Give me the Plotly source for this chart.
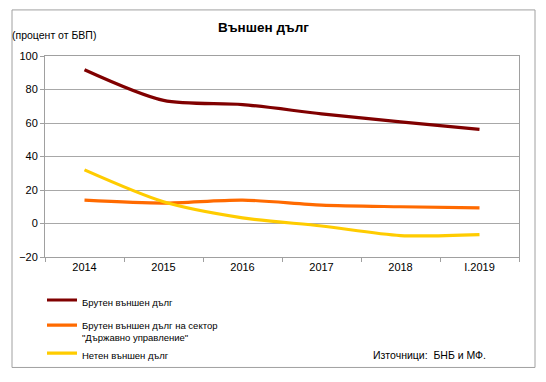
import plotly.graph_objects as go

categories = ["2014", "2015", "2016", "2017", "2018", "I.2019"]
gross_external_debt = [91.8, 73.5, 71.0, 65.5, 60.7, 56.2]
gov_sector_debt = [13.9, 12.2, 14.0, 11.0, 10.0, 9.3]
net_external_debt = [32.0, 13.0, 3.4, -1.5, -7.2, -6.6]

series_names = [
    "Брутен външен дълг",
    "Брутен външен дълг на сектор<br>\"Държавно управление\"",
    "Нетен външен дълг",
]
colors = ["#800000", "#ff6a00", "#ffcc00"]

# page has an 8px body margin; figure is sized so it fits the window
OFF = 8
W, H = 530, 366
L, R, T = 45 - OFF, W - (519 - OFF), 56 - OFF
B = H - (256.7 - OFF)
pw, ph = W - L - R, H - T - B

def px(x):
    return (x - OFF - L) / pw

def py(y):
    return (H - B - (y - OFF)) / ph

legend_ids = ["legend", "legend2", "legend3"]
legend_tops = [287, 312, 340]

fig = go.Figure()
for name, vals, c, lg in zip(series_names, [gross_external_debt, gov_sector_debt, net_external_debt], colors, legend_ids):
    fig.add_trace(go.Scatter(
        x=categories, y=vals, name=name, mode="lines", legend=lg,
        line=dict(color=c, width=3.2, shape="spline", smoothing=0.8),
    ))

font_family = "Liberation Sans, Arial, sans-serif"
legend_common = dict(xanchor="left", yanchor="top", font=dict(size=9.5), itemwidth=30,
                     bgcolor="rgba(0,0,0,0)", valign="top", borderwidth=0)
fig.update_layout(
    width=W, height=H,
    margin=dict(l=L, r=R, t=T, b=B, autoexpand=False),
    paper_bgcolor="white", plot_bgcolor="white",
    font=dict(family=font_family, size=11, color="black"),
    showlegend=True,
    legend=dict(x=px(42), y=py(legend_tops[0]), **legend_common),
    legend2=dict(x=px(42), y=py(legend_tops[1]), **legend_common),
    legend3=dict(x=px(42), y=py(legend_tops[2]), **legend_common),
    xaxis=dict(
        type="category", range=[-0.5, 5.5], showline=True, linecolor="#a0a0a0", mirror=True,
        ticks="outside", tickson="boundaries", ticklen=4, tickcolor="#a0a0a0",
        showgrid=False, tickfont=dict(size=11),
    ),
    yaxis=dict(
        range=[-20, 100], dtick=20, showline=True, linecolor="#a0a0a0", mirror=True,
        ticks="outside", ticklen=4, tickcolor="#a0a0a0",
        showgrid=True, gridcolor="#a8a8a8", gridwidth=1, zeroline=False,
        tickfont=dict(size=11),
    ),
    shapes=[dict(
        type="rect", xref="paper", yref="paper",
        x0=px(12), x1=px(535), y0=py(367), y1=py(10),
        line=dict(color="#a0a0a0", width=1), fillcolor="rgba(0,0,0,0)", layer="below",
    )],
    annotations=[
        dict(text="<b>Външен дълг</b>", x=px(263), y=py(28), xref="paper", yref="paper",
             showarrow=False, font=dict(size=13.5), xanchor="center", yanchor="middle"),
        dict(text="(процент от БВП)", x=px(10), y=py(35), xref="paper", yref="paper",
             showarrow=False, font=dict(size=10.5), xanchor="left", yanchor="middle"),
        dict(text="Източници:  БНБ и МФ.", x=px(488), y=py(355), xref="paper", yref="paper",
             showarrow=False, font=dict(size=10.5), xanchor="right", yanchor="middle"),
    ],
)

fig.write_html("out.html")
